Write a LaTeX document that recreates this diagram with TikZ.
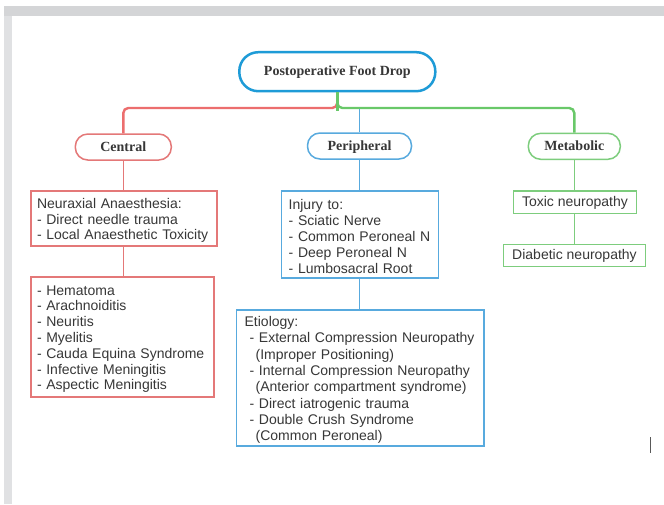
\documentclass[tikz,border=0pt]{standalone}
\usepackage{fontspec}
\setmainfont{Liberation Serif}
\newfontfamily\boxfont{Liberation Sans}
\definecolor{rootblue}{RGB}{30,155,215}
\definecolor{lred}{RGB}{236,110,110}
\definecolor{bred}{RGB}{228,120,120}
\definecolor{lblue}{RGB}{88,170,222}
\definecolor{lgreen}{RGB}{105,200,105}
\definecolor{bgreen}{RGB}{125,205,125}
\definecolor{txt}{RGB}{55,55,55}
\definecolor{frametop}{RGB}{212,213,215}
\definecolor{frameleft}{RGB}{224,225,227}
\tikzset{
  rootpill/.style={draw=rootblue, line width=2.5pt, rectangle, rounded corners=19pt,
    minimum width=196pt, minimum height=39pt, inner sep=0pt, text=txt,
    text height=10.5pt, text depth=2.5pt,
    font=\bfseries\fontsize{14}{16}\selectfont},
  catpill/.style={draw, rectangle, rounded corners=12.5pt, line width=1.5pt,
    minimum height=26pt, inner sep=0pt, text=txt,
    text height=11pt, text depth=2.5pt,
    font=\bfseries\fontsize{14}{16}\selectfont},
  infobox/.style={draw, rectangle, line width=1.5pt, text=txt, align=left,
    inner xsep=6pt, inner ysep=0pt,
    execute at begin node={\rule{0pt}{14pt}},
    font=\boxfont\fontsize{14}{15.8}\selectfont},
  smallbox/.style={draw, rectangle, line width=1.5pt, text=txt, align=center,
    inner sep=0pt, minimum height=22.4pt, text height=10pt, text depth=2pt,
    font=\boxfont\fontsize{14}{16}\selectfont},
  redlink/.style={draw=bred, line width=1.5pt},
  bluelink/.style={draw=lblue, line width=1.5pt},
  greenlink/.style={draw=bgreen, line width=1.5pt},
}
\begin{document}
\begin{tikzpicture}[x=1pt,y=-1pt]
\useasboundingbox (0,0) rectangle (664,504);
\fill[white] (0,0) rectangle (664,504);
% frame
\fill[frametop] (4,6) rectangle (664,16);
\fill[frameleft] (4,16) rectangle (12,504);

% nodes
\node[rootpill] (root) at (337.3,71.7) {Postoperative Foot Drop};
\node[catpill, draw=bred, minimum width=96pt] (central) at (123.3,147) {Central};
\node[catpill, draw=lblue, minimum width=104pt] (peri) at (359.5,146) {Peripheral};
\node[catpill, draw=bgreen, minimum width=92pt] (metab) at (574.3,146.3) {Metabolic};

\node[infobox, draw=bred, minimum width=186pt, text width=174pt, minimum height=55pt] (neur) at (124,218.5)
  {Neuraxial Anaesthesia:\\- Direct needle trauma\\- Local Anaesthetic Toxicity};
\node[infobox, draw=bred, minimum width=183pt, text width=171pt, minimum height=120pt] (comp) at (122.5,337)
  {- Hematoma\\- Arachnoiditis\\- Neuritis\\- Myelitis\\- Cauda Equina Syndrome\\- Infective Meningitis\\- Aspectic Meningitis};

\node[infobox, draw=lblue, minimum width=156.6pt, text width=142.6pt, inner xsep=7pt, minimum height=86.7pt,
  font=\boxfont\fontsize{14}{16}\selectfont] (inj) at (360,234.4)
  {Injury to:\\- Sciatic Nerve\\- Common Peroneal N\\- Deep Peroneal N\\- Lumbosacral Root};
\node[infobox, draw=lblue, minimum width=247.3pt, text width=231.3pt, inner xsep=8pt, minimum height=136pt,
  font=\boxfont\fontsize{14}{16.3}\selectfont] (etio) at (360.3,378)
  {Etiology:\\
   \hspace*{5pt}- External Compression Neuropathy\\
   \hspace*{11pt}(Improper Positioning)\\
   \hspace*{5pt}- Internal Compression Neuropathy\\
   \hspace*{11pt}(Anterior compartment syndrome)\\
   \hspace*{5pt}- Direct iatrogenic trauma\\
   \hspace*{5pt}- Double Crush Syndrome\\
   \hspace*{11pt}(Common Peroneal)};

\node[smallbox, draw=bgreen, minimum width=123.4pt] (toxic) at (575,202.2) {Toxic neuropathy};
\node[smallbox, draw=bgreen, minimum width=142.4pt] (diab) at (574.5,255.5) {Diabetic neuropathy};

% connectors
\coordinate (hub) at (337.3,108);
\draw[bluelink] (peri.north |- hub) -- (peri.north);
\draw[lred, line width=2.4pt, rounded corners=5pt] (root.south) -- (hub) -| (central.north);
\draw[lgreen, line width=2.4pt, rounded corners=5pt] (root.south) -- (hub) -| (metab.north);
\draw[lgreen, line width=2.8pt] (root.south) -- ([yshift=-3pt]hub);

\draw[redlink] (central.south) -- (central.south |- neur.north);
\draw[redlink] (central.south |- neur.south) -- (central.south |- comp.north);
\draw[bluelink] (peri.south) -- (peri.south |- inj.north);
\draw[bluelink] (peri.south |- inj.south) -- (peri.south |- etio.north);
\draw[greenlink] (metab.south) -- (metab.south |- toxic.north);
\draw[greenlink] (metab.south |- toxic.south) -- (metab.south |- diab.north);

% cursor mark
\draw[black!65, line width=1pt] (650.7,437.3) -- (650.7,453.3);
\end{tikzpicture}
\end{document}
